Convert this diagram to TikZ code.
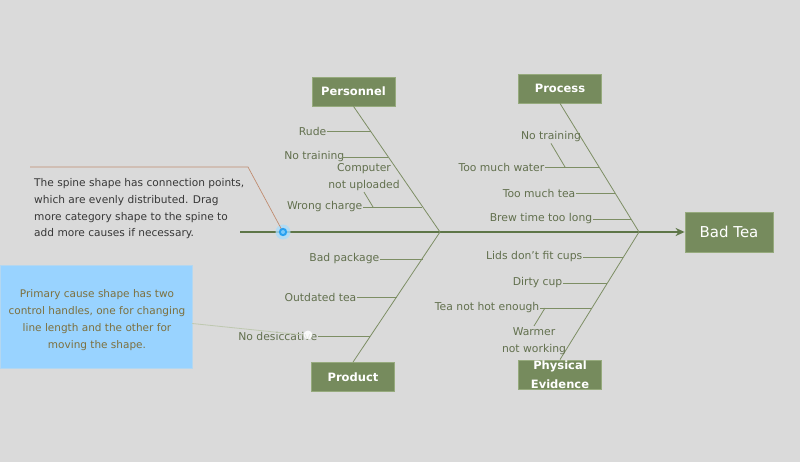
\documentclass[tikz,border=0pt]{standalone}
\usepackage{fontspec}
\setmainfont{DejaVu Sans}
\usetikzlibrary{arrows.meta,calc}
\definecolor{bg}{RGB}{218,218,218}
\definecolor{boxgreen}{RGB}{118,139,93}
\definecolor{boxedge}{RGB}{150,170,125}
\definecolor{spinec}{RGB}{94,118,72}
\definecolor{bonec}{RGB}{125,142,100}
\definecolor{labelc}{RGB}{98,112,78}
\definecolor{callc}{RGB}{192,140,112}
\definecolor{notec}{RGB}{153,211,255}
\definecolor{noteedge}{RGB}{180,215,240}
\definecolor{notetext}{RGB}{125,112,62}
\definecolor{linkc}{RGB}{190,200,175}
\definecolor{handleouter}{RGB}{40,160,240}
\definecolor{handleinner}{RGB}{120,200,250}
\definecolor{handleglow}{RGB}{170,220,250}
\definecolor{darktext}{RGB}{55,55,55}
\begin{document}
\begin{tikzpicture}[x=1pt,y=-1pt,
  catbox/.style={fill=boxgreen,draw=boxedge,line width=0.8pt,text=white,
    font=\bfseries\fontsize{11.5}{13}\selectfont,minimum width=83pt,minimum height=29pt,inner sep=0pt},
  cause/.style={text=labelc,font=\fontsize{10.8}{17}\selectfont,inner xsep=0.5pt,inner ysep=1pt,anchor=east},
  subcause/.style={text=labelc,font=\fontsize{10.8}{17.5}\selectfont,align=center,inner sep=1pt},
  bone/.style={draw=bonec,line width=0.8pt},
  spineline/.style={draw=spinec,line width=2.2pt},
]
\fill[bg] (0,0) rectangle (800,462);
\useasboundingbox (0,0) rectangle (800,462);

% effect box
\node[fill=boxgreen,draw=boxedge,line width=0.8pt,text=white,font=\fontsize{15}{17}\selectfont,
  minimum width=88pt,minimum height=40pt,inner sep=0pt] (bad) at (729,232) {Bad Tea};

% spine
\coordinate (sp0) at (240,232);
\coordinate (j1) at (440,232);
\coordinate (j2) at (639,232);
\draw[spineline,-{Stealth[length=9pt,width=8pt]}] (sp0) -- (bad.west);

% category boxes
\node[catbox] (pers) at (353.5,91.5) {Personnel};
\node[catbox] (proc) at (560,88.5) {Process};
\node[catbox] (prod) at (353,377) {Product};
\node[catbox] (phys) at (560,374.5) {};
\node[text=white,font=\bfseries\fontsize{11.5}{19}\selectfont,align=center,inner sep=0pt] (physlbl) at (560,375) {Physical\\Evidence};

% bones
\draw[bone] (pers.south) -- (j1);
\draw[bone] (proc.south) -- (j2);
\draw[bone] (j1) -- (prod.north);
\draw[bone] (j2) -- (phys.north);

% Personnel causes
\node[cause] (rude) at (327,131) {Rude};
\node[cause] (ntr1) at (345,157) {No training};
\node[cause] (wch) at (363,207) {Wrong charge};
\node[subcause] (cnu) at (364,177) {Computer\\not uploaded};
\coordinate (b1a) at ($(pers.south)!0.198!(j1)$);
\coordinate (b1b) at ($(pers.south)!0.397!(j1)$);
\coordinate (b1c) at ($(pers.south)!0.794!(j1)$);
\draw[bone] (rude.east) -- (rude.east -| b1a);
\draw[bone] ($(ntr1.east)+(-3,0)$) -- (ntr1.east -| b1b);
\draw[bone] (wch.east) -- (wch.east -| b1c);
\coordinate (wchk) at ($(wch.east)+(10,0)$);
\draw[bone] (wchk) -- (cnu.south);

% Process causes
\node[subcause] (ntr2) at (551,137) {No training};
\node[cause] (tmw) at (545,167) {Too much water};
\node[cause] (tmt) at (576,193) {Too much tea};
\node[cause] (btl) at (593,219) {Brew time too long};
\coordinate (b2a) at ($(proc.south)!0.496!(j2)$);
\coordinate (b2b) at ($(proc.south)!0.698!(j2)$);
\coordinate (b2c) at ($(proc.south)!0.899!(j2)$);
\draw[bone] (tmw.east) -- (tmw.east -| b2a);
\draw[bone] (tmt.east) -- (tmt.east -| b2b);
\draw[bone] (btl.east) -- (btl.east -| b2c);
\coordinate (tmwk) at ($(tmw.east)+(20,0)$);
\draw[bone] (tmwk) -- (ntr2.south);

% Product causes
\node[cause] (bpk) at (380,259) {Bad package};
\node[cause] (otd) at (357,297) {Outdated tea};
\node[cause] (nds) at (318,336) {No desiccative};
\coordinate (b3a) at ($(j1)!0.2!(prod.north)$);
\coordinate (b3b) at ($(j1)!0.5!(prod.north)$);
\coordinate (b3c) at ($(j1)!0.8!(prod.north)$);
\draw[bone] (bpk.east) -- (bpk.east -| b3a);
\draw[bone] (otd.east) -- (otd.east -| b3b);
\draw[bone] (nds.east) -- (nds.east -| b3c);

% Physical evidence causes
\node[cause] (lid) at (583,257) {Lids don't fit cups};
\node[cause] (dcp) at (563,283) {Dirty cup};
\node[cause] (tnh) at (540,308) {Tea not hot enough};
\node[subcause] (wnw) at (534,341) {Warmer\\not working};
\coordinate (b4a) at ($(j2)!0.197!(phys.north)$);
\coordinate (b4b) at ($(j2)!0.40!(phys.north)$);
\coordinate (b4c) at ($(j2)!0.598!(phys.north)$);
\draw[bone] (lid.east) -- (lid.east -| b4a);
\draw[bone] (dcp.east) -- (dcp.east -| b4b);
\draw[bone] (tnh.east) -- (tnh.east -| b4c);
\coordinate (tnhk) at ($(tnh.east)+(5,0)$);
\draw[bone] (tnhk) -- (wnw.north);

% spine callout
\coordinate (c0) at (30,167);
\coordinate (c1) at (248,167);
\node[circle,fill=handleglow,opacity=0.8,minimum size=15pt,inner sep=0pt] (handle) at (283,232) {};
\draw[callc,line width=0.7pt] (c0) -- (c1) -- (handle.center);
\fill[handleouter] (handle.center) circle (4.2pt);
\fill[handleinner] (handle.center) circle (2pt);
\node[anchor=west,align=left,text=darktext,
  font=\fontsize{10.6}{16.7}\selectfont,inner sep=0pt] (spinetxt) at (34,209)
  {The spine shape has connection points,\\which are evenly distributed. Drag\\more category shape to the spine to\\add more causes if necessary.};

% primary cause note
\node[fill=notec,draw=noteedge,line width=0.5pt,minimum width=192pt,minimum height=103pt,inner sep=0pt] (note) at (96,316.5) {};
\node[align=center,text=notetext,font=\fontsize{10.5}{16.9}\selectfont,inner sep=0pt] (notetxt) at (97,320)
  {Primary cause shape has two\\control handles, one for changing\\line length and the other for\\moving the shape.};
\node[circle,fill=white,opacity=0.85,minimum size=9pt,inner sep=0pt] (wdot) at (308,335) {};
\draw[linkc,line width=0.8pt] ($(note.east)+(0,7)$) -- (wdot.west);
\end{tikzpicture}
\end{document}
